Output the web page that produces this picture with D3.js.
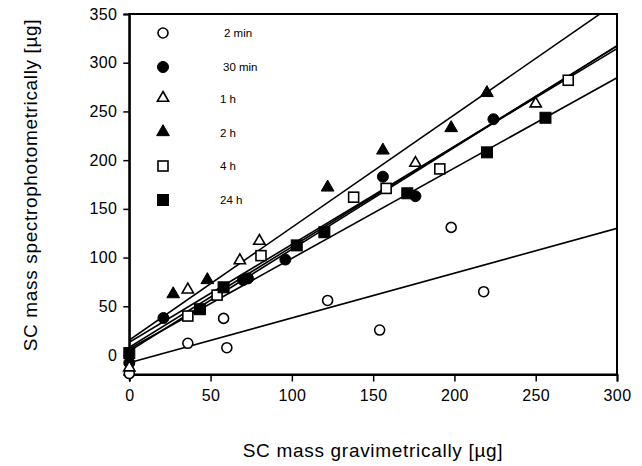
<!DOCTYPE html>
<html><head><meta charset="utf-8">
<script src="https://cdn.jsdelivr.net/npm/d3@7"></script>
<style>
html,body{margin:0;padding:0;background:#fff;}
svg{display:block;}
text{font-family:"Liberation Sans",Arial,Helvetica,sans-serif;fill:#000;}
</style></head>
<body>
<svg id="chart" width="642" height="466"></svg>
<script>
// ---- data ----
const seriesNames = ["2 min", "30 min", "1 h", "2 h", "4 h", "24 h"];
const x2min = [0, 36, 58, 60, 122, 154, 198, 218];
const y2min = [-19, 12, 37.6, 7.5, 56, 25.6, 131, 65];
const x30min = [0, 21, 70, 73, 96, 156, 176, 224];
const y30min = [-8, 38, 77, 78.6, 98, 183, 163, 242];
const x1h = [0, 36, 68, 80, 176, 250];
const y1h = [-14, 66, 96, 116, 196, 257];
const x2h = [27, 48, 122, 156, 198, 220];
const y2h = [61.5, 76, 171, 209, 232, 268];
const x4h = [36, 54, 81, 138, 158, 191, 270];
const y4h = [40, 61.5, 102, 162, 171, 191, 282];
const x24h = [0, 43.5, 58, 103, 120, 171, 220, 256];
const y24h = [2, 47, 69.5, 112.5, 126, 166, 208, 243.5];
// regression lines: y = intercept + slope * x
const fitIntercept = [-8, 8, 13, 15.4, 4, 6.5];
const fitSlope = [0.46, 1.03, 1.005, 1.156, 1.045, 0.927];
const xTicks = [0, 50, 100, 150, 200, 250, 300];
const yTicks = [0, 50, 100, 150, 200, 250, 300, 350];
const markerTypes = ["circle-open", "circle-filled", "triangle-open", "triangle-filled", "square-open", "square-filled"];

const xs = [x2min, x30min, x1h, x2h, x4h, x24h];
const ys = [y2min, y30min, y1h, y2h, y4h, y24h];

// ---- layout ----
const svg = d3.select("#chart");
const pLeft = 129.3, pRight = 617, pTop = 14, pBottom = 374.5;
const x = d3.scaleLinear().domain([0, 300]).range([pLeft, pRight]);
const y = d3.scaleLinear().domain([-20, 350]).range([pBottom, pTop]);

svg.append("defs").append("clipPath").attr("id", "plotclip")
  .append("rect").attr("x", pLeft).attr("y", pTop).attr("width", pRight - pLeft).attr("height", pBottom - pTop);

// frame
svg.append("rect").attr("x", pLeft).attr("y", pTop).attr("width", pRight - pLeft).attr("height", pBottom - pTop)
  .attr("fill", "none").attr("stroke", "#000").attr("stroke-width", 2);

// axes
const xAxis = d3.axisBottom(x).tickValues(xTicks).tickSize(7).tickPadding(8).tickFormat(d3.format("d"));
const gx = svg.append("g").attr("transform", `translate(0,${pBottom})`).call(xAxis);
gx.select(".domain").attr("stroke-width", 2);
gx.selectAll(".tick line").attr("stroke-width", 1.5);
gx.selectAll("text").style("font-size", "16px").style("letter-spacing", "0.4px").attr("fill", "#000");

const yAxis = d3.axisLeft(y).tickValues(yTicks).tickSize(6).tickPadding(6).tickFormat(d3.format("d"));
const gy = svg.append("g").attr("transform", `translate(${pLeft},0)`).call(yAxis);
gy.select(".domain").attr("stroke-width", 2);
gy.selectAll(".tick line").attr("stroke-width", 1.5);
gy.selectAll("text").style("font-size", "16px").style("letter-spacing", "0.4px").attr("fill", "#000");

// axis titles
svg.append("text").attr("x", 373).attr("y", 457).attr("text-anchor", "middle")
  .style("font-size", "19px").style("letter-spacing", "0.7px").text("SC mass gravimetrically [µg]");
svg.append("text").attr("transform", "translate(37,185) rotate(-90)").attr("text-anchor", "middle")
  .style("font-size", "19px").style("letter-spacing", "0.65px").text("SC mass spectrophotometrically [µg]");

// regression lines
const plot = svg.append("g").attr("clip-path", "url(#plotclip)");
seriesNames.forEach((name, i) => {
  plot.append("line")
    .attr("x1", x(0)).attr("y1", y(fitIntercept[i]))
    .attr("x2", x(300)).attr("y2", y(fitIntercept[i] + fitSlope[i] * 300))
    .attr("stroke", "#000").attr("stroke-width", 1.6);
});

// markers
function drawMarker(g, type, cx, cy) {
  const filled = type.endsWith("filled");
  let el;
  if (type.startsWith("circle")) {
    el = g.append("circle").attr("cx", cx).attr("cy", cy).attr("r", filled ? 5.5 : 5);
  } else if (type.startsWith("triangle")) {
    el = g.append("path").attr("d", d3.symbol().type(d3.symbolTriangle).size(filled ? 70 : 55)())
      .attr("transform", `translate(${cx},${cy - 1})`);
  } else {
    const s = filled ? 11 : 10;
    el = g.append("rect").attr("x", cx - s / 2).attr("y", cy - s / 2).attr("width", s).attr("height", s);
  }
  el.attr("fill", filled ? "#000" : "#fff").attr("stroke", "#000").attr("stroke-width", filled ? 1 : 1.6);
}

const pts = svg.append("g");
seriesNames.forEach((name, i) => {
  xs[i].forEach((xv, j) => drawMarker(pts, markerTypes[i], x(xv), y(ys[i][j])));
});

// legend
const legendY = [33, 67, 99, 133, 166, 200];
const legendTextX = [224, 223, 220, 220, 220, 220];
seriesNames.forEach((name, i) => {
  drawMarker(svg, markerTypes[i], 163, legendY[i]);
  svg.append("text").attr("x", legendTextX[i]).attr("y", legendY[i] + 4)
    .style("font-size", "11.5px").text(name);
});
</script>
</body></html>
